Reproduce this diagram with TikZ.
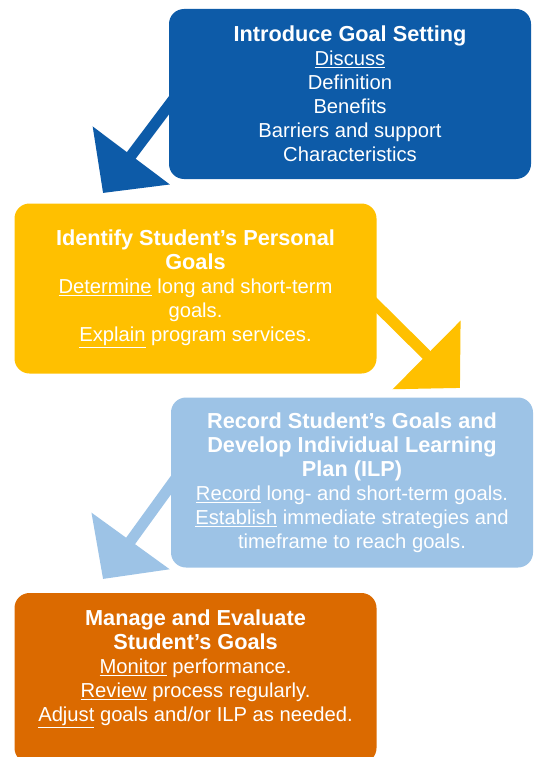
\documentclass[tikz,border=0pt]{standalone}
\usepackage{fontspec}
\setmainfont{Liberation Sans}
\usetikzlibrary{arrows.meta,backgrounds}

\definecolor{introblue}{HTML}{0D5BA8}
\definecolor{identyellow}{HTML}{FFC000}
\definecolor{recordblue}{HTML}{9DC3E6}
\definecolor{manageorange}{HTML}{DB6A00}
\newcommand{\steptitle}[1]{{\fontsize{21.7}{24}\selectfont\bfseries #1}}

\begin{document}
\begin{tikzpicture}[x=1pt, y=-1pt,
    box/.style={rounded corners=15pt, minimum width=362pt, minimum height=170pt,
      inner sep=0pt, align=center, text=white, font=\fontsize{20.2}{24}\selectfont},
    bigarrow/.style={line width=11pt, -{Triangle[length=47pt, width=94pt]}}]
      \useasboundingbox (0,0) rectangle (538,757);

      % the four steps
      \node[box, fill=introblue] (intro) at (350,94)
        {\steptitle{Introduce Goal Setting}\\ \underline{Discuss}\\ Definition\\ Benefits\\
         Barriers and support\\ Characteristics};
      \node[box, fill=identyellow] (ident) at (195.5,288.5)
        {\steptitle{Identify Student's Personal}\\ \steptitle{Goals}\\
         \underline{Determine} long and short-term\\ goals.\\ \underline{Explain} program services.};
      \node[box, fill=recordblue] (record) at (352,482.5)
        {\steptitle{Record Student's Goals and}\\ \steptitle{Develop Individual Learning}\\ \steptitle{Plan (ILP)}\\
         \underline{Record} long- and short-term goals.\\ \underline{Establish} immediate strategies and\\
         timeframe to reach goals.};
      \node[box, fill=manageorange] (manage) at (195.5,678)
        {\steptitle{Manage and Evaluate}\\ \steptitle{Student's Goals}\\ \underline{Monitor} performance.\\
         \underline{Review} process regularly.\\ \underline{Adjust} goals and/or ILP as needed.\\ \mbox{}};

      % arrows between the steps
      \coordinate (intro tail) at (188,80);
      \coordinate (ident tip) at (103,193);
      \coordinate (ident tail) at (360,289);
      \coordinate (record tip) at (460,388);
      \coordinate (record tail) at (187,463);
      \coordinate (manage tip) at (103,579);
      \begin{scope}[on background layer]
        \draw[bigarrow, introblue] (intro tail) -- (ident tip);
        \draw[bigarrow, identyellow] (ident tail) -- (record tip);
        \draw[bigarrow, recordblue] (record tail) -- (manage tip);
      \end{scope}
\end{tikzpicture}
\end{document}
